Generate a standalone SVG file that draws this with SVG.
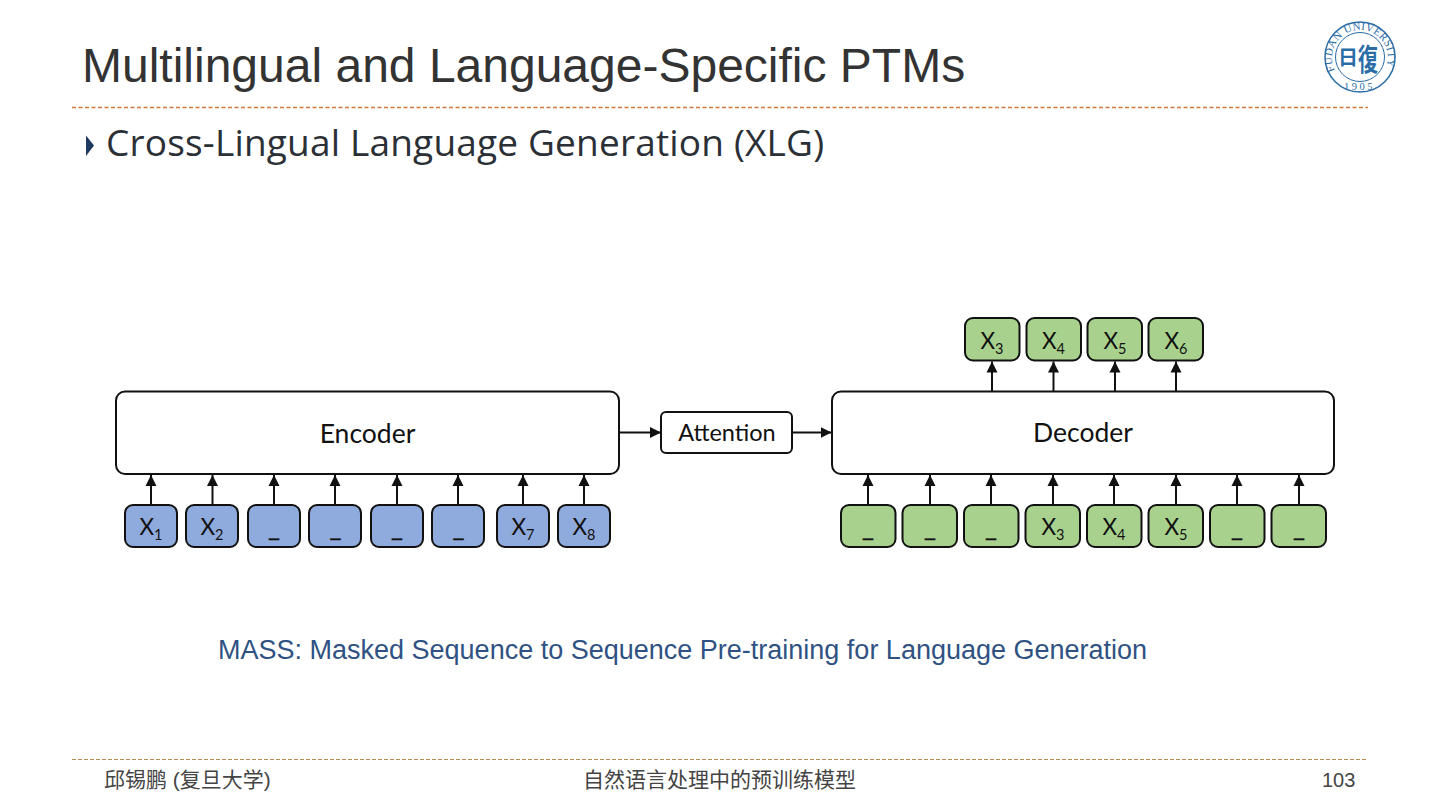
<svg xmlns="http://www.w3.org/2000/svg" width="1440" height="810" viewBox="0 0 1440 810">
<style>
text{font-family:"Lato","Open Sans",sans-serif;fill:#111}
.box{stroke:#111;stroke-width:2}
.b{fill:#8faadc}.g{fill:#a9d18e}.w{fill:#fff}
.lbl{font-size:26.500px;text-anchor:middle}
.tok{font-size:22.500px;text-anchor:middle}
.us{font-size:26px;text-anchor:middle;stroke:#111;stroke-width:.4}
.sub{font-size:14.500px}
.bl{font-size:23.500px;text-anchor:middle}
.cn{font-family:"Liberation Sans","Noto Sans CJK SC",sans-serif;font-size:21px;fill:#444}
.seal{font-family:"Liberation Serif","Noto Sans CJK SC",serif;fill:#2a6ca6}
#connectors line{stroke:#111;stroke-width:2;marker-end:url(#ah)}
</style>
<defs>
<marker id="ah" markerUnits="userSpaceOnUse" markerWidth="12" markerHeight="12" refX="11" refY="6" orient="auto"><path d="M0 0.500L11 6L0 11.500Z" fill="#111"/></marker>
<path id="arcTop" d="M1335 70.500A28 28 0 1 1 1385 70.500"/>
</defs>
<rect width="1440" height="810" fill="#fff"/>
<g id="header">
<text x="82" y="82" style="font-family:'Liberation Sans',sans-serif;fill:#333;font-size:48px">Multilingual and Language-Specific PTMs</text>
<line x1="72" y1="107.500" x2="1368" y2="107.500" stroke="#d2793a" stroke-width="1.500" stroke-dasharray="4 2.500"/>
<path d="M86 135.500L94 145.500L86 156Z" fill="#1f3a5f"/>
<text x="106" y="156" style="font-family:'Open Sans',sans-serif;fill:#2b2f36;font-size:37px;letter-spacing:.18px">Cross-Lingual Language Generation (XLG)</text>
</g>
<g id="logo">
<circle cx="1360" cy="57" r="35" fill="#fff" stroke="#2a6ca6" stroke-width="1.500"/>
<circle cx="1360" cy="57" r="24.500" fill="none" stroke="#2a6ca6" stroke-width="1"/>
<text class="seal" font-size="10.800" letter-spacing=".3"><textPath href="#arcTop">FUDAN UNIVERSITY</textPath></text>
<text class="seal" font-size="10.500" letter-spacing="2.500" x="1344" y="90">1905</text>
<text class="seal" font-size="20" font-weight="700" x="1338" y="65">日</text>
<text class="seal" font-size="20" font-weight="700" transform="translate(1358 70) scale(1 1.500)">復</text>
</g>
<g id="connectors">
<line x1="151" y1="505" x2="151" y2="475"/><line x1="212.500" y1="505" x2="212.500" y2="475"/><line x1="274" y1="505" x2="274" y2="475"/><line x1="335" y1="505" x2="335" y2="475"/><line x1="397" y1="505" x2="397" y2="475"/><line x1="458" y1="505" x2="458" y2="475"/><line x1="523" y1="505" x2="523" y2="475"/><line x1="584" y1="505" x2="584" y2="475"/>
<line x1="868" y1="505" x2="868" y2="475"/><line x1="930" y1="505" x2="930" y2="475"/><line x1="991" y1="505" x2="991" y2="475"/><line x1="1053" y1="505" x2="1053" y2="475"/><line x1="1114" y1="505" x2="1114" y2="475"/><line x1="1176" y1="505" x2="1176" y2="475"/><line x1="1237" y1="505" x2="1237" y2="475"/><line x1="1299" y1="505" x2="1299" y2="475"/>
<line x1="992" y1="391" x2="992" y2="361.500"/><line x1="1053.500" y1="391" x2="1053.500" y2="361.500"/><line x1="1115" y1="391" x2="1115" y2="361.500"/><line x1="1176" y1="391" x2="1176" y2="361.500"/>
<line x1="620" y1="432.500" x2="661" y2="432.500"/><line x1="792" y1="432.500" x2="831.500" y2="432.500"/>
</g>
<g id="encoder"><rect class="box w" x="116" y="391.500" width="503" height="82.500" rx="9"/><text class="lbl" x="367.500" y="443">Encoder</text></g>
<g id="attention"><rect class="box w" x="661" y="412" width="131" height="41" rx="5"/><text class="bl" x="727" y="441">Attention</text></g>
<g id="decoder"><rect class="box w" x="832" y="391.500" width="502" height="82.500" rx="9"/><text class="lbl" x="1083" y="442">Decoder</text></g>
<g id="enc1"><rect class="box b" x="125" y="505" width="52" height="42" rx="8"/><text class="tok" x="151" y="535">X<tspan class="sub" dy="5">1</tspan></text></g>
<g id="enc2"><rect class="box b" x="186" y="505" width="52" height="42" rx="8"/><text class="tok" x="212" y="535">X<tspan class="sub" dy="5">2</tspan></text></g>
<g id="enc3"><rect class="box b" x="248" y="505" width="52" height="42" rx="8"/><text class="us" x="274" y="536">_</text></g>
<g id="enc4"><rect class="box b" x="309" y="505" width="52" height="42" rx="8"/><text class="us" x="335.500" y="536">_</text></g>
<g id="enc5"><rect class="box b" x="371" y="505" width="52" height="42" rx="8"/><text class="us" x="397" y="536">_</text></g>
<g id="enc6"><rect class="box b" x="432" y="505" width="52" height="42" rx="8"/><text class="us" x="458.500" y="536">_</text></g>
<g id="enc7"><rect class="box b" x="497" y="505" width="52" height="42" rx="8"/><text class="tok" x="523" y="535">X<tspan class="sub" dy="5">7</tspan></text></g>
<g id="enc8"><rect class="box b" x="558" y="505" width="52" height="42" rx="8"/><text class="tok" x="584" y="535">X<tspan class="sub" dy="5">8</tspan></text></g>
<g id="dec1"><rect class="box g" x="841" y="505" width="54.500" height="42" rx="8"/><text class="us" x="868" y="536">_</text></g>
<g id="dec2"><rect class="box g" x="902.500" y="505" width="54.500" height="42" rx="8"/><text class="us" x="930" y="536">_</text></g>
<g id="dec3"><rect class="box g" x="964" y="505" width="54.500" height="42" rx="8"/><text class="us" x="991" y="536">_</text></g>
<g id="dec4"><rect class="box g" x="1025.500" y="505" width="54.500" height="42" rx="8"/><text class="tok" x="1053" y="535">X<tspan class="sub" dy="5">3</tspan></text></g>
<g id="dec5"><rect class="box g" x="1087" y="505" width="54.500" height="42" rx="8"/><text class="tok" x="1114" y="535">X<tspan class="sub" dy="5">4</tspan></text></g>
<g id="dec6"><rect class="box g" x="1148.500" y="505" width="54.500" height="42" rx="8"/><text class="tok" x="1176" y="535">X<tspan class="sub" dy="5">5</tspan></text></g>
<g id="dec7"><rect class="box g" x="1210" y="505" width="54.500" height="42" rx="8"/><text class="us" x="1237" y="536">_</text></g>
<g id="dec8"><rect class="box g" x="1271.500" y="505" width="54.500" height="42" rx="8"/><text class="us" x="1299" y="536">_</text></g>
<g id="out3"><rect class="box g" x="965" y="318" width="54.500" height="42.500" rx="8"/><text class="tok" x="992" y="349">X<tspan class="sub" dy="5">3</tspan></text></g>
<g id="out4"><rect class="box g" x="1026.500" y="318" width="54.500" height="42.500" rx="8"/><text class="tok" x="1053.500" y="349">X<tspan class="sub" dy="5">4</tspan></text></g>
<g id="out5"><rect class="box g" x="1087.500" y="318" width="54.500" height="42.500" rx="8"/><text class="tok" x="1115" y="349">X<tspan class="sub" dy="5">5</tspan></text></g>
<g id="out6"><rect class="box g" x="1148.500" y="318" width="54.500" height="42.500" rx="8"/><text class="tok" x="1176" y="349">X<tspan class="sub" dy="5">6</tspan></text></g>
<text x="218" y="659" style="font-family:'Liberation Sans',sans-serif;fill:#2f5283;font-size:27px">MASS: Masked Sequence to Sequence Pre-training for Language Generation</text>
<g id="footer">
<line x1="72" y1="759.500" x2="1368" y2="759.500" stroke="#b98a4e" stroke-width="1" stroke-dasharray="4 2"/>
<text class="cn" x="104" y="787">邱锡鹏 (复旦大学)</text>
<text class="cn" x="583" y="787">自然语言处理中的预训练模型</text>
<text class="cn" x="1322" y="787" style="font-size:20px">103</text>
</g>
</svg>
